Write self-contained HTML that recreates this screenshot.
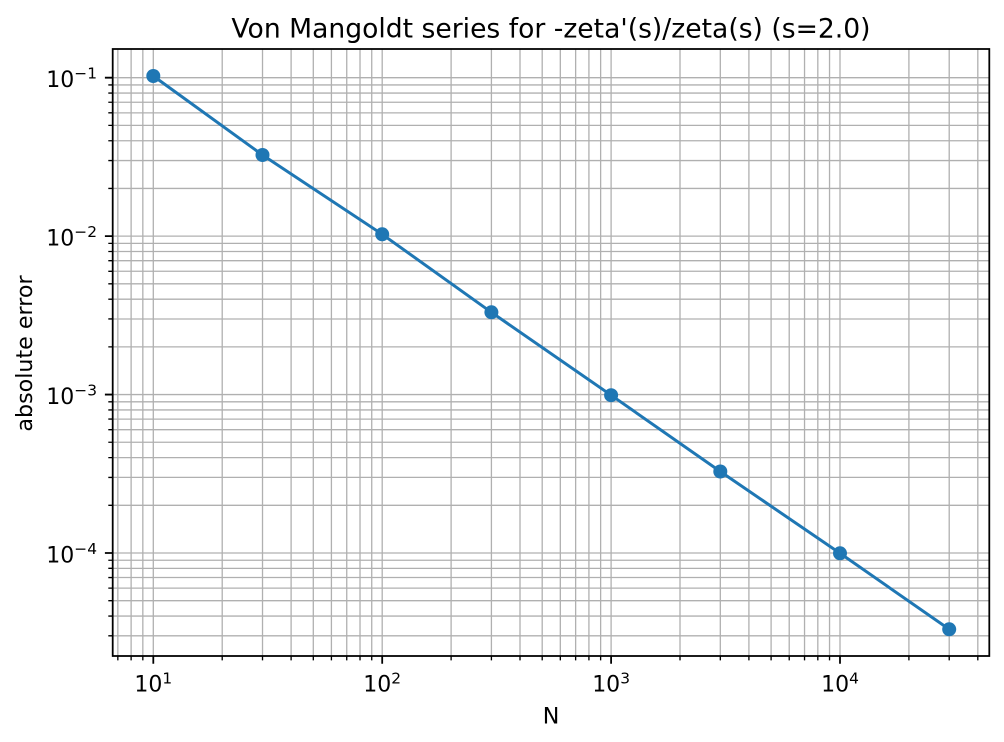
<!DOCTYPE html>
<html>
<head>
<meta charset="utf-8">
<style>
  html, body { margin: 0; padding: 0; background: #ffffff; }
  svg { display: block; }
  text { font-family: "DejaVu Sans", "Liberation Sans", sans-serif; fill: #000; }
</style>
</head>
<body>
<svg width="1004" height="742" viewBox="0 0 1004 742" xmlns="http://www.w3.org/2000/svg">
  <rect x="0" y="0" width="1004" height="742" fill="#ffffff"/>

  <!-- grid -->
  <g stroke="#b0b0b0" stroke-width="1.3" fill="none">
    <path d="
      M117.84 49V656 M131.12 49V656 M142.83 49V656
      M153.3 49V656 M222.21 49V656 M262.51 49V656 M291.11 49V656 M313.3 49V656 M331.42 49V656 M346.74 49V656 M360.02 49V656 M371.73 49V656
      M382.2 49V656 M451.11 49V656 M491.41 49V656 M520.01 49V656 M542.2 49V656 M560.32 49V656 M575.64 49V656 M588.92 49V656 M600.63 49V656
      M611.1 49V656 M680.01 49V656 M720.31 49V656 M748.91 49V656 M771.1 49V656 M789.22 49V656 M804.54 49V656 M817.82 49V656 M829.53 49V656
      M840 49V656 M908.91 49V656 M949.21 49V656 M977.81 49V656"/>
    <path d="
      M112.7 77.7H989.3 M112.7 84.95H989.3 M112.7 93.06H989.3 M112.7 102.24H989.3 M112.7 112.85H989.3 M112.7 125.39H989.3 M112.7 140.75H989.3 M112.7 160.54H989.3 M112.7 188.44H989.3
      M112.7 236.13H989.3 M112.7 243.38H989.3 M112.7 251.49H989.3 M112.7 260.67H989.3 M112.7 271.28H989.3 M112.7 283.82H989.3 M112.7 299.18H989.3 M112.7 318.97H989.3 M112.7 346.87H989.3
      M112.7 394.56H989.3 M112.7 401.81H989.3 M112.7 409.92H989.3 M112.7 419.1H989.3 M112.7 429.71H989.3 M112.7 442.25H989.3 M112.7 457.61H989.3 M112.7 477.4H989.3 M112.7 505.3H989.3
      M112.7 552.99H989.3 M112.7 560.24H989.3 M112.7 568.35H989.3 M112.7 577.53H989.3 M112.7 588.14H989.3 M112.7 600.68H989.3 M112.7 616.04H989.3 M112.7 635.83H989.3"/>
  </g>

  <!-- data series -->
  <polyline fill="none" stroke="#1f77b4" stroke-width="3" stroke-linejoin="round" stroke-linecap="square"
    points="153.3,76 262.5,155 382.2,234.3 491.4,312.3 611.1,395.2 720.3,471.5 840,553.3 949.2,629.3"/>
  <g fill="#1f77b4">
    <circle cx="153.3" cy="76" r="7"/>
    <circle cx="262.5" cy="155" r="7"/>
    <circle cx="382.2" cy="234.3" r="7"/>
    <circle cx="491.4" cy="312.3" r="7"/>
    <circle cx="611.1" cy="395.2" r="7"/>
    <circle cx="720.3" cy="471.5" r="7"/>
    <circle cx="840" cy="553.3" r="7"/>
    <circle cx="949.2" cy="629.3" r="7"/>
  </g>

  <!-- ticks -->
  <g stroke="#000" fill="none">
    <path stroke-width="1.78" d="M153.3 656v7.8 M382.2 656v7.8 M611.1 656v7.8 M840 656v7.8"/>
    <path stroke-width="1.33" d="
      M117.84 656v4.4 M131.12 656v4.4 M142.83 656v4.4
      M222.21 656v4.4 M262.51 656v4.4 M291.11 656v4.4 M313.3 656v4.4 M331.42 656v4.4 M346.74 656v4.4 M360.02 656v4.4 M371.73 656v4.4
      M451.11 656v4.4 M491.41 656v4.4 M520.01 656v4.4 M542.2 656v4.4 M560.32 656v4.4 M575.64 656v4.4 M588.92 656v4.4 M600.63 656v4.4
      M680.01 656v4.4 M720.31 656v4.4 M748.91 656v4.4 M771.1 656v4.4 M789.22 656v4.4 M804.54 656v4.4 M817.82 656v4.4 M829.53 656v4.4
      M908.91 656v4.4 M949.21 656v4.4 M977.81 656v4.4"/>
    <path stroke-width="1.78" d="M112.7 77.7h-7.8 M112.7 236.13h-7.8 M112.7 394.56h-7.8 M112.7 552.99h-7.8"/>
    <path stroke-width="1.33" d="
      M112.7 84.95h-4.4 M112.7 93.06h-4.4 M112.7 102.24h-4.4 M112.7 112.85h-4.4 M112.7 125.39h-4.4 M112.7 140.75h-4.4 M112.7 160.54h-4.4 M112.7 188.44h-4.4
      M112.7 243.38h-4.4 M112.7 251.49h-4.4 M112.7 260.67h-4.4 M112.7 271.28h-4.4 M112.7 283.82h-4.4 M112.7 299.18h-4.4 M112.7 318.97h-4.4 M112.7 346.87h-4.4
      M112.7 401.81h-4.4 M112.7 409.92h-4.4 M112.7 419.1h-4.4 M112.7 429.71h-4.4 M112.7 442.25h-4.4 M112.7 457.61h-4.4 M112.7 477.4h-4.4 M112.7 505.3h-4.4
      M112.7 560.24h-4.4 M112.7 568.35h-4.4 M112.7 577.53h-4.4 M112.7 588.14h-4.4 M112.7 600.68h-4.4 M112.7 616.04h-4.4 M112.7 635.83h-4.4"/>
  </g>

  <!-- spines -->
  <rect x="112.7" y="49" width="876.6" height="607" fill="none" stroke="#000" stroke-width="1.78"/>

  <!-- x tick labels -->
  <g font-size="22" text-anchor="middle">
    <text x="153.3" y="691.7">10<tspan font-size="15.4" dy="-8.4">1</tspan></text>
    <text x="382.2" y="691.7">10<tspan font-size="15.4" dy="-8.4">2</tspan></text>
    <text x="611.1" y="691.7">10<tspan font-size="15.4" dy="-8.4">3</tspan></text>
    <text x="840" y="691.7">10<tspan font-size="15.4" dy="-8.4">4</tspan></text>
  </g>

  <!-- y tick labels -->
  <g font-size="22" text-anchor="end">
    <text x="97" y="87">10<tspan font-size="15.4" dy="-8.4">−1</tspan></text>
    <text x="97" y="245.4">10<tspan font-size="15.4" dy="-8.4">−2</tspan></text>
    <text x="97" y="403.9">10<tspan font-size="15.4" dy="-8.4">−3</tspan></text>
    <text x="97" y="562.3">10<tspan font-size="15.4" dy="-8.4">−4</tspan></text>
  </g>

  <!-- axis labels -->
  <text x="551" y="723.3" font-size="22.2" text-anchor="middle">N</text>
  <text transform="translate(32,353.5) rotate(-90)" font-size="22.2" text-anchor="middle">absolute error</text>

  <!-- title -->
  <text x="551" y="37.3" font-size="26.6" text-anchor="middle">Von Mangoldt series for -zeta'(s)/zeta(s) (s=2.0)</text>
</svg>
</body>
</html>
